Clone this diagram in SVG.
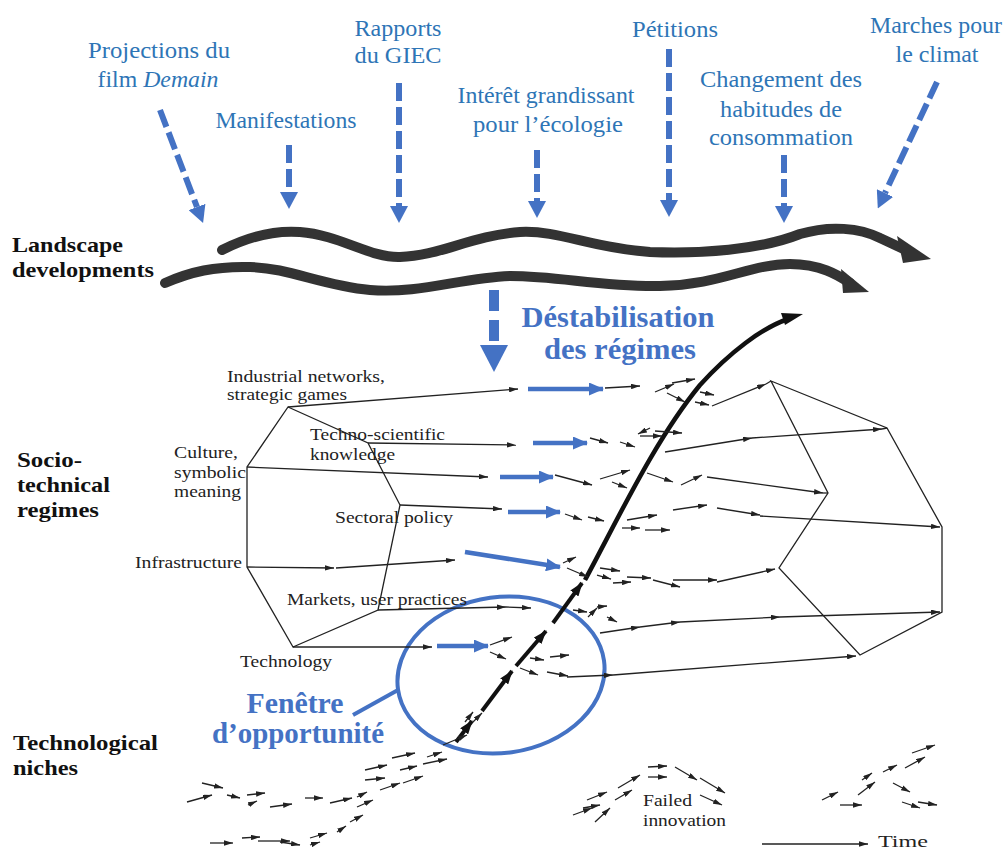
<svg xmlns="http://www.w3.org/2000/svg" width="1006" height="850" viewBox="0 0 1006 850">
<style>
.bl{font-family:"Liberation Serif","Tinos","DejaVu Serif","Noto Serif",serif;font-size:24px;fill:#2E75B6;text-anchor:middle}
.hd{font-family:"Liberation Serif","Tinos","DejaVu Serif","Noto Serif",serif;font-weight:bold;font-size:21px;fill:#111}
.sm{font-family:"Liberation Serif","Tinos","DejaVu Serif","Noto Serif",serif;font-size:17px;fill:#222}
.bb{font-family:"Liberation Serif","Tinos","DejaVu Serif","Noto Serif",serif;font-weight:bold;font-size:30px;fill:#4472C4;text-anchor:middle}
.dash{stroke:#4472C4;stroke-width:6;stroke-dasharray:18 6;fill:none;marker-end:url(#dh)}
.ln{stroke:#222;stroke-width:1.3;fill:none}
.sa{stroke:#222;stroke-width:1.3;fill:none;marker-end:url(#ah)}
.ba{stroke:#4472C4;stroke-width:4.5;fill:none;marker-end:url(#bh)}
.ka{stroke:#111;stroke-width:4;fill:none;marker-end:url(#kh)}
.wave{stroke:#333;stroke-width:10;fill:none;stroke-linecap:round}
</style>
<defs>
<marker id="ah" viewBox="0 0 10 6" refX="10" refY="3" markerWidth="9" markerHeight="5.4" markerUnits="userSpaceOnUse" orient="auto"><path d="M0,0 L10,3 L0,6 Z" fill="#222"/></marker>
<marker id="bh" viewBox="0 0 15 13" refX="14" refY="6.5" markerWidth="15" markerHeight="13" markerUnits="userSpaceOnUse" orient="auto"><path d="M0,0 L15,6.5 L0,13 Z" fill="#4472C4"/></marker>
<marker id="dh" viewBox="0 0 17 18" refX="0" refY="9" markerWidth="17" markerHeight="18" markerUnits="userSpaceOnUse" orient="auto"><path d="M0,0 L17,9 L0,18 Z" fill="#4472C4"/></marker>
<marker id="kh" viewBox="0 0 14 10" refX="13" refY="5" markerWidth="14" markerHeight="10" markerUnits="userSpaceOnUse" orient="auto"><path d="M0,0 L14,5 L0,10 Z" fill="#111"/></marker>
</defs>
<rect width="1006" height="850" fill="#fff"/>

<!-- Landscape pressure labels -->
<g id="n-projections"><text class="bl" x="159" y="58" textLength="142" lengthAdjust="spacingAndGlyphs">Projections du</text><text class="bl" x="158" y="87" textLength="121" lengthAdjust="spacingAndGlyphs">film <tspan font-style="italic">Demain</tspan></text></g>
<g id="n-manifestations"><text class="bl" x="286" y="128" textLength="141" lengthAdjust="spacingAndGlyphs">Manifestations</text></g>
<g id="n-giec"><text class="bl" x="398" y="36" textLength="87" lengthAdjust="spacingAndGlyphs">Rapports</text><text class="bl" x="398" y="63" textLength="87" lengthAdjust="spacingAndGlyphs">du GIEC</text></g>
<g id="n-interet"><text class="bl" x="546" y="103" textLength="177" lengthAdjust="spacingAndGlyphs">Intérêt grandissant</text><text class="bl" x="548" y="132" textLength="150" lengthAdjust="spacingAndGlyphs">pour l’écologie</text></g>
<g id="n-petitions"><text class="bl" x="675" y="37" textLength="86" lengthAdjust="spacingAndGlyphs">Pétitions</text></g>
<g id="n-changement"><text class="bl" x="781" y="87" textLength="162" lengthAdjust="spacingAndGlyphs">Changement des</text><text class="bl" x="781" y="117" textLength="122" lengthAdjust="spacingAndGlyphs">habitudes de</text><text class="bl" x="781" y="145" textLength="144" lengthAdjust="spacingAndGlyphs">consommation</text></g>
<g id="n-marches"><text class="bl" x="936" y="33" textLength="132" lengthAdjust="spacingAndGlyphs">Marches pour</text><text class="bl" x="937" y="62" textLength="83" lengthAdjust="spacingAndGlyphs">le climat</text></g>

<!-- Level labels -->
<g id="n-landscape"><text class="hd" x="12" y="252" textLength="111" lengthAdjust="spacingAndGlyphs">Landscape</text><text class="hd" x="12" y="277" textLength="142" lengthAdjust="spacingAndGlyphs">developments</text></g>
<g id="n-regimes"><text class="hd" x="17" y="467" textLength="65" lengthAdjust="spacingAndGlyphs">Socio-</text><text class="hd" x="17" y="492" textLength="93" lengthAdjust="spacingAndGlyphs">technical</text><text class="hd" x="17" y="517" textLength="82" lengthAdjust="spacingAndGlyphs">regimes</text></g>
<g id="n-niches"><text class="hd" x="13" y="750" textLength="145" lengthAdjust="spacingAndGlyphs">Technological</text><text class="hd" x="13" y="775" textLength="65" lengthAdjust="spacingAndGlyphs">niches</text></g>

<!-- Blue annotations -->
<g id="n-destabilisation"><text class="bb" x="618" y="327" textLength="193" lengthAdjust="spacingAndGlyphs">Déstabilisation</text><text class="bb" x="620" y="359" textLength="152" lengthAdjust="spacingAndGlyphs">des régimes</text></g>
<g id="n-fenetre"><text class="bb" x="295" y="713" font-size="29" textLength="97" lengthAdjust="spacingAndGlyphs">Fenêtre</text><text class="bb" x="298" y="743" font-size="29" textLength="172" lengthAdjust="spacingAndGlyphs">d’opportunité</text></g>
<g id="n-window"><ellipse cx="501" cy="675" rx="104" ry="78" transform="rotate(-8 501 675)" fill="none" stroke="#4472C4" stroke-width="4"/></g>

<!-- Regime hexagons -->
<g id="n-regime-left">
<polygon class="ln" points="288,407 368,443 400,505 378,610 293,647 247,567 247,467"/>
<text class="sm" x="227" y="382" textLength="158" lengthAdjust="spacingAndGlyphs">Industrial networks,</text>
<text class="sm" x="227" y="400" textLength="120" lengthAdjust="spacingAndGlyphs">strategic games</text>
<text class="sm" x="310" y="440" textLength="135" lengthAdjust="spacingAndGlyphs">Techno-scientific</text>
<text class="sm" x="310" y="460" textLength="85" lengthAdjust="spacingAndGlyphs">knowledge</text>
<text class="sm" x="174" y="458" textLength="64" lengthAdjust="spacingAndGlyphs">Culture,</text>
<text class="sm" x="174" y="478" textLength="72" lengthAdjust="spacingAndGlyphs">symbolic</text>
<text class="sm" x="174" y="497" textLength="67" lengthAdjust="spacingAndGlyphs">meaning</text>
<text class="sm" x="335" y="523" textLength="118" lengthAdjust="spacingAndGlyphs">Sectoral policy</text>
<text class="sm" x="135" y="568" textLength="107" lengthAdjust="spacingAndGlyphs">Infrastructure</text>
<text class="sm" x="287" y="605" textLength="180" lengthAdjust="spacingAndGlyphs">Markets, user practices</text>
<text class="sm" x="240" y="667" textLength="92" lengthAdjust="spacingAndGlyphs">Technology</text>
</g>
<g id="n-regime-right">
<polygon class="ln" points="771,381 887,428 942,527 942,612 860,655 779,568 828,493"/>
</g>
<g id="n-failed"><text class="sm" x="643" y="806" textLength="49" lengthAdjust="spacingAndGlyphs">Failed</text><text class="sm" x="643" y="826" textLength="83" lengthAdjust="spacingAndGlyphs">innovation</text></g>
<g id="n-time"><text class="sm" x="878" y="847" font-size="21" textLength="50" lengthAdjust="spacingAndGlyphs">Time</text></g>

<g id="connectors">
<!-- dashed pressure arrows -->
<path class="dash" d="M160,110 L197,207"/>
<path class="dash" d="M289,145 L289,192"/>
<path class="dash" d="M399,83 L399,206"/>
<path class="dash" d="M537,150 L537,201"/>
<path class="dash" d="M669,49 L669,200"/>
<path class="dash" d="M784,155 L784,206"/>
<path class="dash" d="M937,82 L885,193"/>

<!-- landscape waves -->
<path class="wave" d="M222,250 C250,236 275,230 300,232 C340,235 370,258 400,257 C440,256 470,236 520,232 C560,230 590,248 650,252 C700,254 760,250 800,234 C830,225 860,228 880,238 L910,252"/>
<polygon points="897,236 931,259 903,263" fill="#333"/>
<path class="wave" d="M165,283 C190,272 215,266 250,267 C290,268 320,285 370,290 C420,294 460,278 510,276 C560,276 600,287 660,286 C720,285 750,264 790,264 C820,264 838,275 850,283"/>
<polygon points="841,269 869,292 843,293" fill="#333"/>

<!-- destabilisation arrow -->
<path d="M494,290 L494,345" stroke="#4472C4" stroke-width="10" stroke-dasharray="21 9" fill="none"/>
<polygon points="480,345 508,345 494,372" fill="#4472C4"/>

<!-- big trajectory -->
<path d="M585,580 C620,515 655,440 700,385 C730,352 762,328 788,319" stroke="#111" stroke-width="4.5" fill="none"/>
<polygon points="803,314 785,325 781,313" fill="#111"/>
<path class="ka" d="M553,623 L582,583"/>
<path class="ka" d="M516,666 L546,631"/>
<path class="ka" d="M482,711 L512,671"/>
<path class="ka" d="M456,742 L472,721"/>

<!-- row 1 -->
<path class="sa" d="M288,407 L518,389"/>
<path class="ba" d="M528,389 L603,389"/>
<path class="sa" d="M605,388 L640,386"/>
<path class="sa" d="M655,392 L674,384"/>
<path class="sa" d="M672,383 L695,379"/>
<path class="sa" d="M667,393 L685,402"/>
<path class="sa" d="M695,402 L709,405"/>
<path class="sa" d="M700,392 L714,395"/>
<path class="sa" d="M712,406 L766,384"/>
<path class="ln" d="M766,384 L771,381"/>
<!-- row 2 -->
<path class="sa" d="M368,443 L516,445"/>
<path class="ba" d="M533,443 L587,443"/>
<path class="sa" d="M590,438 L608,443"/>
<path class="sa" d="M620,442 L635,447"/>
<path class="sa" d="M640,436 L662,436"/>
<path class="sa" d="M655,431 L682,433"/>
<path class="sa" d="M650,428 L638,434"/>
<path class="sa" d="M665,452 L752,438"/>
<path class="sa" d="M752,438 L882,429"/>
<path class="ln" d="M882,429 L887,428"/>
<!-- row 3 -->
<path class="sa" d="M247,467 L488,477"/>
<path class="ba" d="M500,477 L553,477"/>
<path class="sa" d="M555,475 L592,485"/>
<path class="sa" d="M600,479 L630,470"/>
<path class="sa" d="M612,482 L627,488"/>
<path class="sa" d="M647,473 L673,482"/>
<path class="sa" d="M681,485 L702,475"/>
<path class="sa" d="M707,477 L823,493"/>
<path class="ln" d="M823,493 L828,493"/>
<!-- row 4 -->
<path class="sa" d="M400,505 L502,509"/>
<path class="ba" d="M508,512 L560,512"/>
<path class="sa" d="M565,514 L582,520"/>
<path class="sa" d="M588,517 L604,521"/>
<path class="sa" d="M627,520 L657,515"/>
<path class="sa" d="M673,510 L707,505"/>
<path class="sa" d="M622,528 L640,528"/>
<path class="sa" d="M645,530 L670,530"/>
<path class="sa" d="M717,508 L760,515"/>
<path class="sa" d="M760,516 L940,527"/>
<!-- row 5 -->
<path class="sa" d="M247,567 L334,568"/>
<path class="sa" d="M336,568 L455,560"/>
<path class="ba" d="M465,552 L560,567"/>
<path class="sa" d="M563,563 L576,557"/>
<path class="sa" d="M567,568 L588,577"/>
<path class="sa" d="M600,568 L620,571"/>
<path class="sa" d="M597,575 L611,579"/>
<path class="sa" d="M613,583 L631,582"/>
<path class="sa" d="M627,577 L651,578"/>
<path class="sa" d="M653,580 L680,587"/>
<path class="sa" d="M673,580 L717,580"/>
<path class="sa" d="M717,582 L775,569"/>
<!-- row 6 -->
<path class="sa" d="M378,610 L506,607"/>
<path class="sa" d="M506,607 L531,608"/>
<path class="sa" d="M573,610 L587,612"/>
<path class="sa" d="M588,617 L597,608"/>
<path class="sa" d="M597,607 L607,606"/>
<path class="sa" d="M607,617 L617,622"/>
<path class="sa" d="M600,633 L640,627"/>
<path class="sa" d="M640,627 L680,622"/>
<path class="sa" d="M680,622 L780,617"/>
<path class="sa" d="M780,617 L940,612"/>
<!-- row 7 -->
<path class="sa" d="M293,647 L432,647"/>
<path class="ba" d="M437,646 L488,646"/>
<path class="sa" d="M490,645 L512,637"/>
<path class="sa" d="M490,652 L506,659"/>
<path class="sa" d="M530,658 L544,660"/>
<path class="sa" d="M550,657 L569,655"/>
<path class="sa" d="M520,668 L538,675"/>
<path class="sa" d="M547,672 L568,676"/>
<path class="sa" d="M567,677 L613,675"/>
<path class="sa" d="M613,675 L856,656"/>

<!-- niche arrows (successful) -->
<path class="sa" d="M210,843 L233,843"/>
<path class="sa" d="M242,838 L260,837"/>
<path class="sa" d="M258,841 L290,841"/>
<path class="sa" d="M280,842 L300,845"/>
<path class="sa" d="M310,838 L327,833"/>
<path class="sa" d="M310,845 L320,842"/>
<path class="sa" d="M337,832 L346,826"/>
<path class="sa" d="M350,822 L363,815"/>
<path class="sa" d="M187,802 L212,795"/>
<path class="sa" d="M202,783 L223,788"/>
<path class="sa" d="M227,795 L240,798"/>
<path class="sa" d="M247,795 L265,793"/>
<path class="sa" d="M248,805 L257,801"/>
<path class="sa" d="M270,807 L292,804"/>
<path class="sa" d="M305,798 L323,798"/>
<path class="sa" d="M330,803 L352,798"/>
<path class="sa" d="M357,797 L367,792"/>
<path class="sa" d="M357,807 L373,800"/>
<path class="sa" d="M365,780 L385,778"/>
<path class="sa" d="M365,770 L387,765"/>
<path class="sa" d="M380,790 L400,783"/>
<path class="sa" d="M392,758 L415,753"/>
<path class="sa" d="M400,770 L417,766"/>
<path class="sa" d="M403,783 L423,776"/>
<path class="sa" d="M427,757 L442,752"/>
<path class="sa" d="M423,764 L447,759"/>
<path class="sa" d="M443,745 L467,735"/>
<path class="sa" d="M465,722 L473,712"/>
<path class="sa" d="M473,722 L482,713"/>

<!-- failed innovation -->
<path class="sa" d="M573,815 L592,808"/>
<path class="sa" d="M583,808 L600,805"/>
<path class="sa" d="M587,800 L607,792"/>
<path class="sa" d="M595,822 L610,808"/>
<path class="sa" d="M615,800 L632,790"/>
<path class="sa" d="M618,788 L640,775"/>
<path class="sa" d="M648,767 L667,766"/>
<path class="sa" d="M648,777 L667,777"/>
<path class="sa" d="M675,767 L697,780"/>
<path class="sa" d="M700,778 L725,793"/>
<path class="sa" d="M700,795 L722,805"/>

<!-- right niche -->
<path class="sa" d="M822,800 L838,792"/>
<path class="sa" d="M840,805 L862,805"/>
<path class="sa" d="M858,795 L875,782"/>
<path class="sa" d="M862,780 L872,773"/>
<path class="sa" d="M883,772 L897,765"/>
<path class="sa" d="M893,783 L910,792"/>
<path class="sa" d="M902,802 L920,808"/>
<path class="sa" d="M918,802 L937,805"/>
<path class="sa" d="M905,768 L925,757"/>
<path class="sa" d="M912,753 L935,745"/>

<!-- fenêtre pointer -->
<path d="M353,715 L398,690" stroke="#4472C4" stroke-width="4" fill="none"/>

<!-- time -->
<path class="sa" d="M762,844 L868,844"/>
</g>
</svg>
